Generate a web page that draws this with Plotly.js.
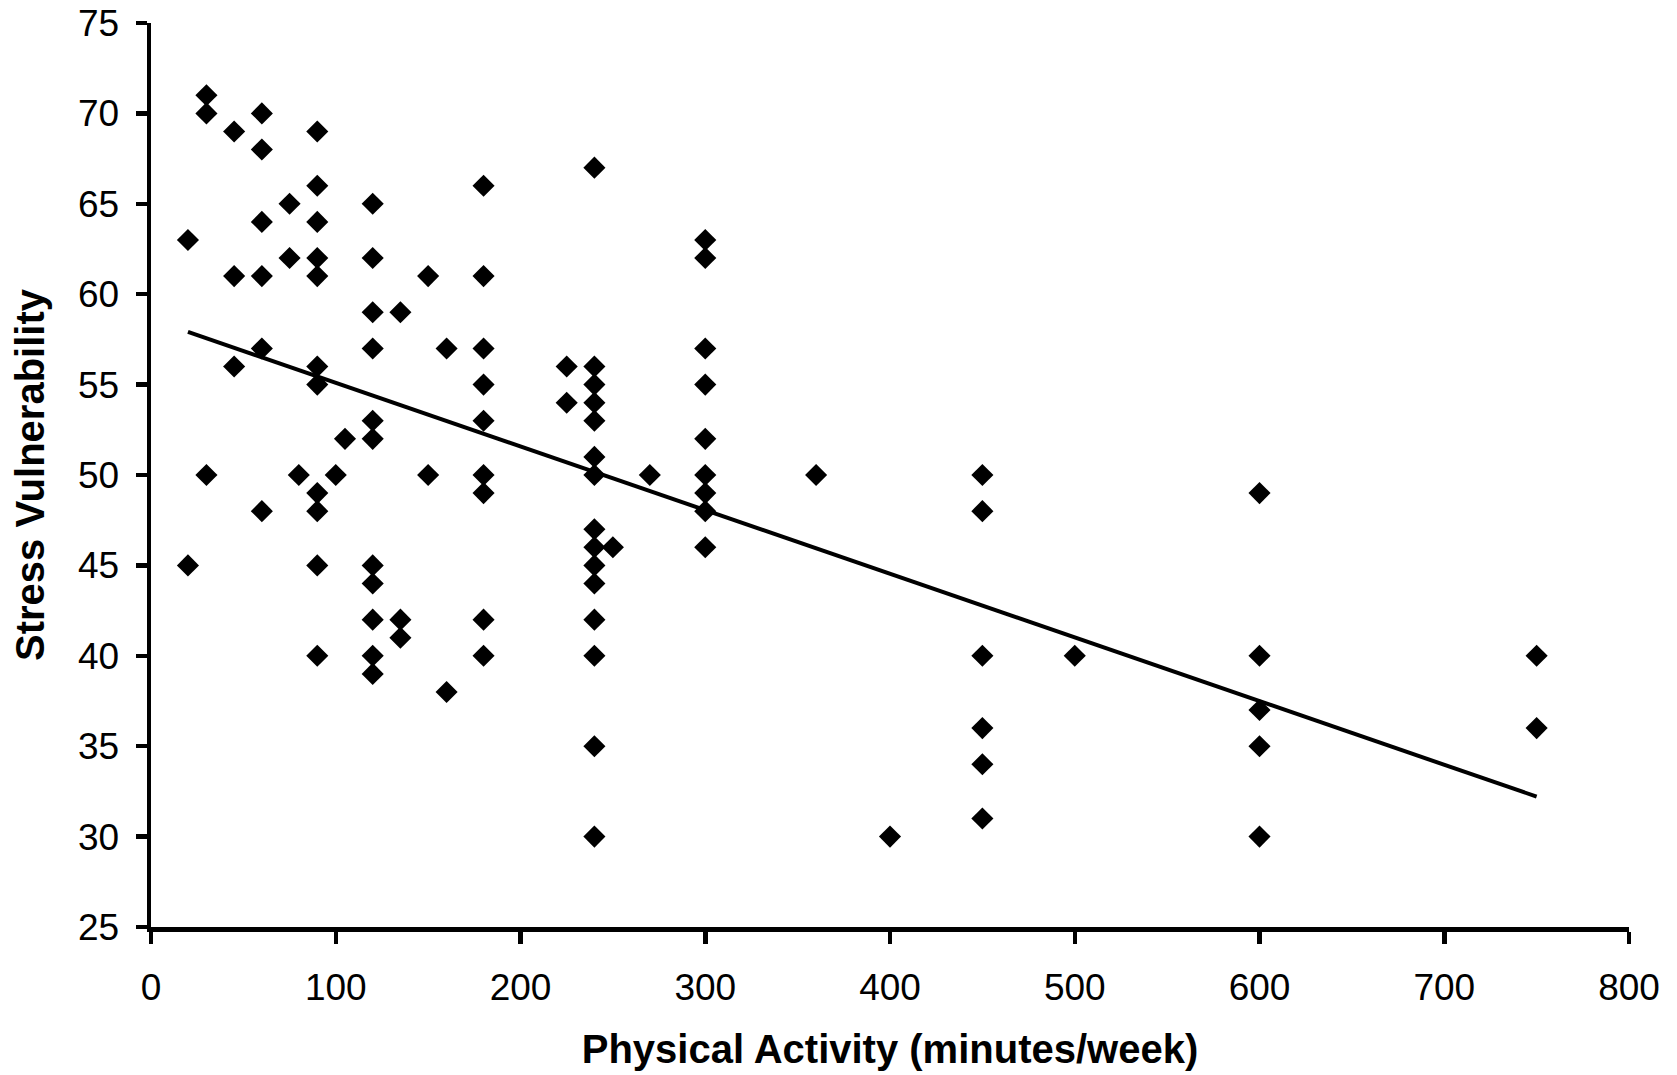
<!DOCTYPE html>
<html>
<head>
<meta charset="utf-8">
<script src="https://cdn.plot.ly/plotly-3.0.1.min.js"></script>
<style>html,body{margin:0;padding:0;background:#fff;}#chart{width:1677px;height:1075px;}</style>
</head>
<body>
<div id="chart"></div>
<script>
// Physical activity (minutes/week) for each respondent
const activityMinutes = [
  20, 20,
  30, 30, 30,
  45, 45, 45,
  60, 60, 60, 60, 60, 60,
  75, 75,
  80,
  90, 90, 90, 90, 90, 90, 90, 90, 90, 90, 90,
  100,
  105,
  120, 120, 120, 120, 120, 120, 120, 120, 120, 120, 120,
  135, 135, 135,
  150, 150,
  160, 160,
  180, 180, 180, 180, 180, 180, 180, 180, 180,
  225, 225,
  240, 240, 240, 240, 240, 240, 240, 240, 240, 240, 240, 240, 240, 240, 240,
  250,
  270,
  300, 300, 300, 300, 300, 300, 300, 300, 300,
  360,
  400,
  450, 450, 450, 450, 450, 450,
  500,
  600, 600, 600, 600, 600,
  750, 750
];
// Stress vulnerability score for each respondent
const stressScores = [
  63, 45,
  71, 70, 50,
  69, 61, 56,
  70, 68, 64, 61, 57, 48,
  65, 62,
  50,
  69, 66, 64, 62, 61, 56, 55, 49, 48, 45, 40,
  50,
  52,
  65, 62, 59, 57, 53, 52, 45, 44, 42, 40, 39,
  59, 42, 41,
  61, 50,
  57, 38,
  66, 61, 57, 55, 53, 50, 49, 42, 40,
  56, 54,
  67, 56, 55, 54, 53, 51, 50, 47, 46, 45, 44, 42, 40, 35, 30,
  46,
  50,
  63, 62, 57, 55, 52, 50, 49, 48, 46,
  50,
  30,
  50, 48, 40, 36, 34, 31,
  40,
  49, 40, 37, 35, 30,
  40, 36
];
const xTickValues = [0, 100, 200, 300, 400, 500, 600, 700, 800];
const yTickValues = [25, 30, 35, 40, 45, 50, 55, 60, 65, 70, 75];
const xTitle = 'Physical Activity (minutes/week)';
const yTitle = 'Stress Vulnerability';

// Ordinary least squares trend line
const n = activityMinutes.length;
const mx = activityMinutes.reduce((a, b) => a + b, 0) / n;
const my = stressScores.reduce((a, b) => a + b, 0) / n;
let sxy = 0, sxx = 0;
for (let i = 0; i < n; i++) {
  sxy += (activityMinutes[i] - mx) * (stressScores[i] - my);
  sxx += (activityMinutes[i] - mx) * (activityMinutes[i] - mx);
}
const slope = sxy / sxx;
const intercept = my - slope * mx;
const xMin = Math.min(...activityMinutes);
const xMax = Math.max(...activityMinutes);
const trendX = [xMin, xMax];
const trendY = trendX.map(x => intercept + slope * x);

const font = 'Arial, "Liberation Sans", sans-serif';

const traces = [
  {
    type: 'scatter', mode: 'markers',
    x: activityMinutes, y: stressScores,
    marker: {symbol: 'diamond', size: 17, color: '#000', line: {width: 0}},
    hoverinfo: 'x+y', showlegend: false
  },
  {
    type: 'scatter', mode: 'lines',
    x: trendX, y: trendY,
    line: {color: '#000', width: 4},
    hoverinfo: 'skip', showlegend: false
  }
];

const layout = {
  width: 1677, height: 1075,
  margin: {l: 151, r: 48, t: 23, b: 148, pad: 0},
  paper_bgcolor: '#fff', plot_bgcolor: '#fff',
  font: {family: font, color: '#000', size: 37},
  showlegend: false,
  xaxis: {
    range: [0, 800], tickvals: xTickValues, ticktext: xTickValues.map(String),
    showgrid: false, zeroline: false,
    showline: true, linecolor: '#000', linewidth: 4.5,
    ticks: 'outside', ticklen: 12, tickwidth: 4.5, tickcolor: '#000',
    ticklabelstandoff: 12,
    tickfont: {family: font, size: 37, color: '#000'},
    title: {text: '<b>' + xTitle + '</b>', font: {family: font, size: 40, color: '#000'}, standoff: 29},
    automargin: false
  },
  yaxis: {
    range: [25, 75], tickvals: yTickValues, ticktext: yTickValues.map(String),
    showgrid: false, zeroline: false,
    showline: true, linecolor: '#000', linewidth: 4.5,
    ticks: 'outside', ticklen: 11, tickwidth: 4.5, tickcolor: '#000',
    ticklabelstandoff: 9,
    tickfont: {family: font, size: 37, color: '#000'},
    title: {text: '<b>' + yTitle + '</b>', font: {family: font, size: 40, color: '#000'}, standoff: 22},
    automargin: false
  }
};

Plotly.newPlot('chart', traces, layout, {staticPlot: true, displayModeBar: false});
</script>
</body>
</html>
